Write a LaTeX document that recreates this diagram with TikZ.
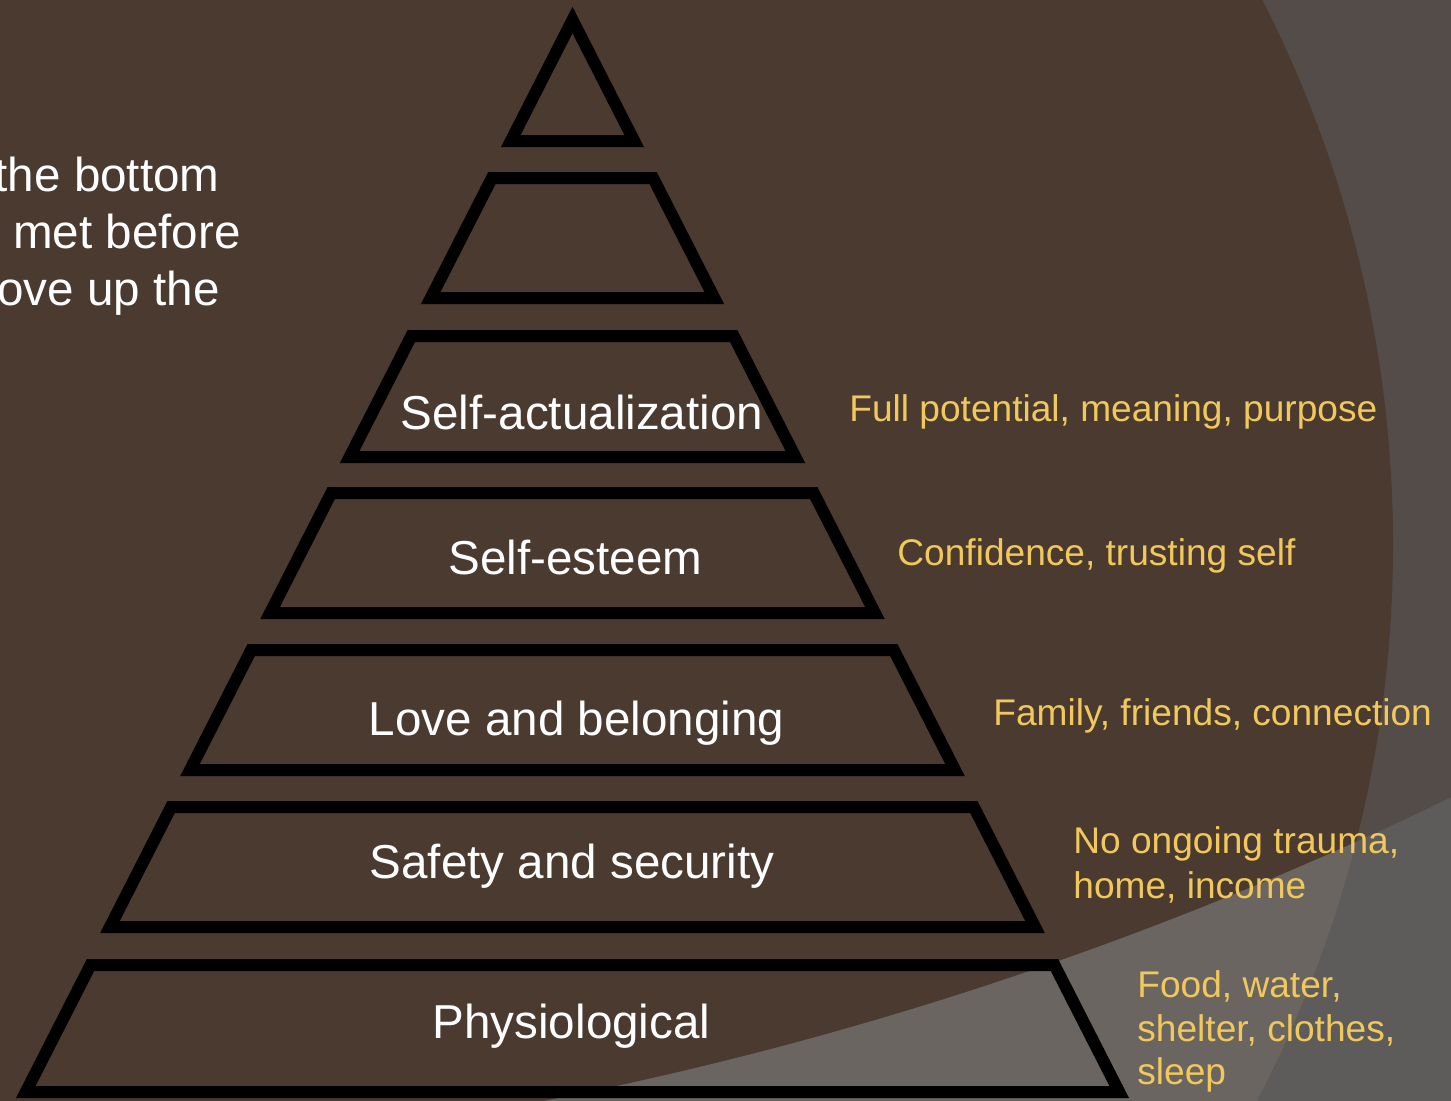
\documentclass[tikz,border=0pt]{standalone}
\usepackage{fontspec}
\setmainfont{Liberation Sans}
\definecolor{bggrey}{RGB}{84,76,73}
\definecolor{brownbg}{RGB}{75,58,48}
\definecolor{lightout}{RGB}{94,92,90}
\definecolor{lightin}{RGB}{106,101,96}
\definecolor{noteyellow}{RGB}{240,200,92}
\begin{document}
\begin{tikzpicture}[x=0.5pt,y=-0.5pt,
  tier/.style={draw=black,line width=6pt,line join=miter},
  lvl/.style={text=white,font=\fontsize{23.8pt}{28pt}\selectfont,inner sep=0pt,anchor=base},
  note/.style={text=noteyellow,font=\fontsize{18.55pt}{22pt}\selectfont,inner sep=0pt,anchor=base west},
  side/.style={text=white,font=\fontsize{23.8pt}{28pt}\selectfont,inner sep=0pt,anchor=base east}]
\useasboundingbox (0,0) rectangle (1451,1100);
\clip (-3,-3) rectangle (1454,1103);
% background
\fill[bggrey] (-3,-3) rectangle (1454,1103);
\fill[brownbg] (193,545) circle[radius=600pt];
\fill[lightout,even odd rule] (-3,-3) rectangle (1454,1103) (-179,-2563) circle[radius=1867pt];
\begin{scope}
  \clip (193,545) circle[radius=600pt];
  \fill[lightin,even odd rule] (-3,-3) rectangle (1454,1103) (-179,-2563) circle[radius=1867pt];
\end{scope}
% pyramid tiers
\draw[tier] (572.5,20) -- (634.21,141) -- (510.79,141) -- cycle;
\draw[tier] (491.92,178) -- (653.08,178) -- (714.28,298) -- (430.72,298) -- cycle;
\draw[tier] (411.34,336) -- (733.66,336) -- (795.37,457) -- (349.63,457) -- cycle;
\draw[tier] (331.27,493) -- (813.73,493) -- (874.93,613) -- (270.07,613) -- cycle;
\draw[tier] (251.2,650) -- (893.8,650) -- (955,770) -- (190,770) -- cycle;
\draw[tier] (171.13,807) -- (973.87,807) -- (1035.07,927) -- (109.93,927) -- cycle;
\draw[tier] (90.55,965) -- (1054.45,965) -- (1119.22,1092) -- (25.78,1092) -- cycle;
% tier labels
\node[lvl] (selfact) at (582,429) {Self-actualization};
\node[lvl] (esteem) at (575.5,574) {Self-esteem};
\node[lvl] (love) at (576.5,735) {Love and belonging};
\node[lvl] (safety) at (572,878) {Safety and security};
\node[lvl] (physio) at (571.5,1038) {Physiological};
% side notes
\node[note] (n1) at (849,421) {Full potential, meaning, purpose};
\node[note] (n2) at (897,565) {Confidence, trusting self};
\node[note] (n3) at (993,725) {Family, friends, connection};
\node[note] (n4a) at (1073,853) {No ongoing trauma,};
\node[note] (n4b) at (1073,898) {home, income};
\node[note] (n5a) at (1137,997) {Food, water,};
\node[note] (n5b) at (1137,1041) {shelter, clothes,};
\node[note] (n5c) at (1137,1084) {sleep};
% left text (cut by the edge)
\node[side] (t1) at (220,191) {the bottom};
\node[side] (t2) at (241,248) {met before};
\node[side] (t3) at (220,305) {ove up the};
\end{tikzpicture}
\end{document}
